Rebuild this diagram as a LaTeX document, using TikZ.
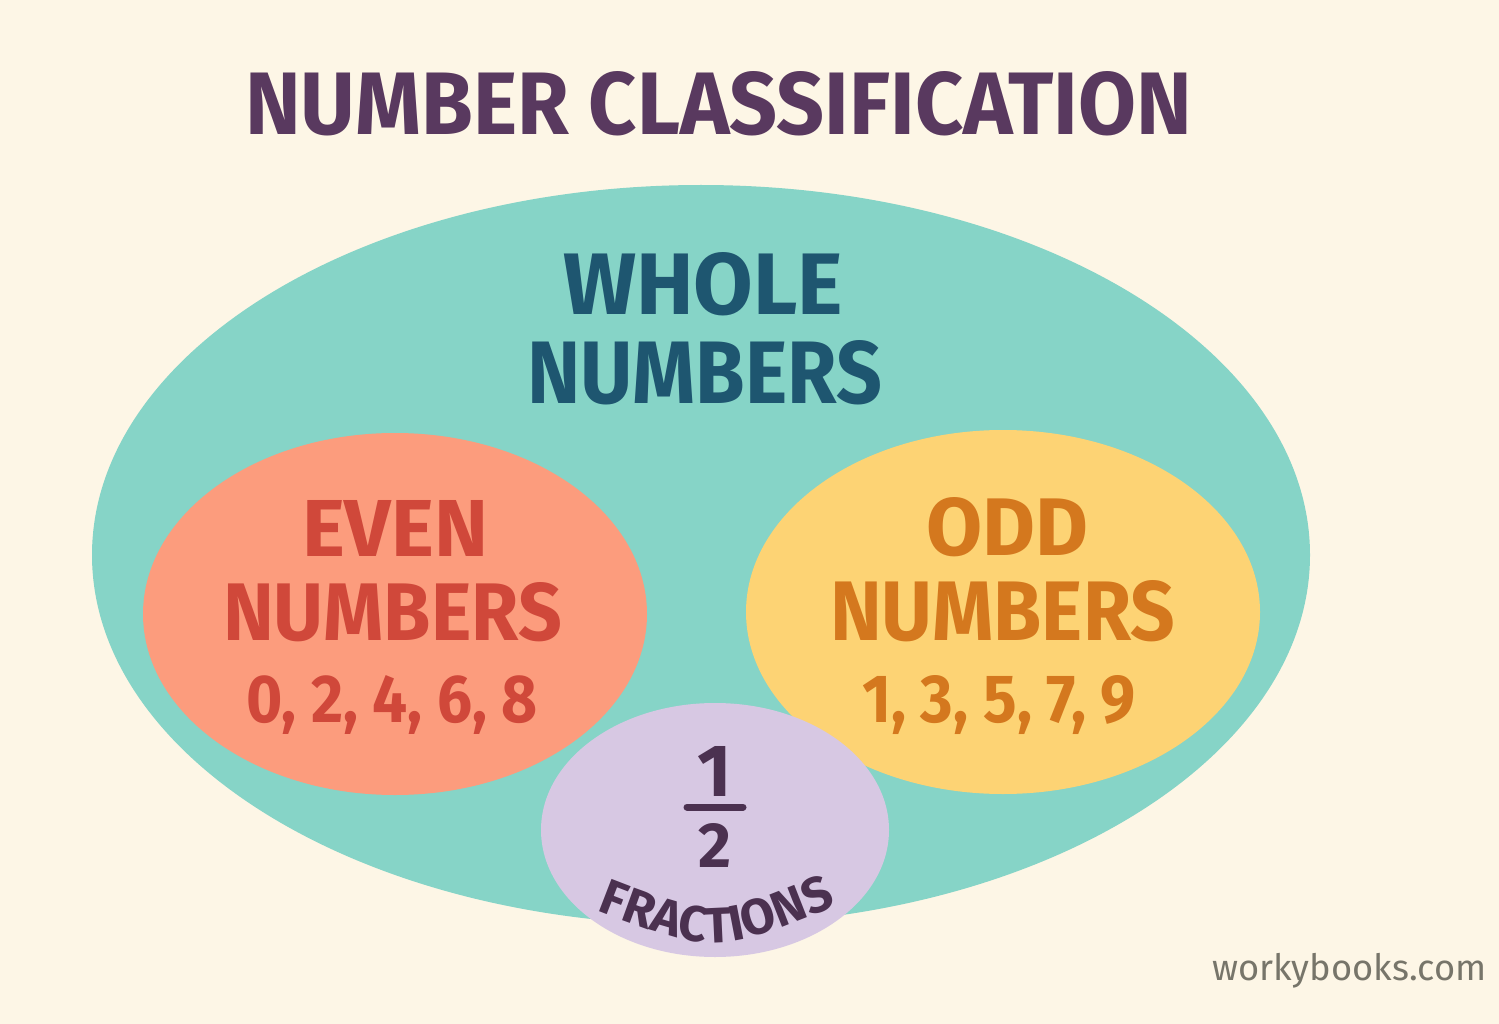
\documentclass[tikz,border=0pt]{standalone}
\usepackage{fontspec}
\setmainfont{Fira Sans}
\usetikzlibrary{decorations.text}
\definecolor{bgc}{HTML}{FDF6E6}
\definecolor{tealc}{HTML}{86D4C7}
\definecolor{evenc}{HTML}{FC9C7D}
\definecolor{oddc}{HTML}{FDD374}
\definecolor{fracfill}{HTML}{D7C8E3}
\definecolor{titlec}{HTML}{59395F}
\definecolor{wholec}{HTML}{1E5670}
\definecolor{eventext}{HTML}{D0483A}
\definecolor{oddtext}{HTML}{D4781E}
\definecolor{fracc}{HTML}{4B3150}
\definecolor{wmc}{HTML}{77756A}
\begin{document}
\begin{tikzpicture}[x=1pt,y=-1pt,
  lbl/.style={inner sep=0pt, outer sep=0pt, anchor=base west, font=\bfseries},
  clbl/.style={inner sep=0pt, outer sep=0pt, anchor=base, font=\bfseries}]
\useasboundingbox (0,0) rectangle (1499,1024);
\fill[bgc] (0,0) rectangle (1499,1024);
% sets
\fill[tealc] (701,555) ellipse [x radius=609, y radius=370];
\fill[evenc] (395,614) ellipse [x radius=252, y radius=181];
\fill[oddc] (1003,612) ellipse [x radius=257, y radius=182];
\fill[fracfill] (715,830) ellipse [x radius=174, y radius=127];
% title
\node[lbl, text=titlec] (title) at (245,135) {\resizebox{947pt}{63pt}{NUMBER CLASSIFICATION}};
% whole numbers
\node[lbl, text=wholec] (whole1) at (563,315) {\resizebox{280pt}{62pt}{WHOLE}};
\node[lbl, text=wholec] (whole2) at (527,403) {\resizebox{355pt}{63pt}{NUMBERS}};
% even
\node[lbl, text=eventext] (even1) at (302,556) {\resizebox{186pt}{56pt}{EVEN}};
\node[lbl, text=eventext] (even2) at (223,640) {\resizebox{339pt}{58pt}{NUMBERS}};
\node[lbl, text=eventext] (even3) at (246,722) {\resizebox{292pt}{47pt}{0, 2, 4, 6, 8}};
% odd
\node[lbl, text=oddtext] (odd1) at (926,555) {\resizebox{162pt}{58pt}{ODD}};
\node[lbl, text=oddtext] (odd2) at (830,640) {\resizebox{345pt}{60pt}{NUMBERS}};
\node[lbl, text=oddtext] (odd3) at (862,722) {\resizebox{274pt}{47pt}{1, 3, 5, 7, 9}};
% fraction
\node[clbl, text=fracc] (one) at (715,796) {\resizebox{!}{50pt}{1}};
\coordinate (barl) at (687,807);
\coordinate (barr) at (743,807);
\draw[fracc, line width=7pt, line cap=round] (barl) -- (barr);
\node[clbl, text=fracc] (two) at (715,867) {\resizebox{!}{44pt}{2}};
\path[decorate, decoration={text along path, text align=center, text color=fracc,
  text={|\bfseries\fontsize{50pt}{50pt}\selectfont|FRACTIONS}}]
  (575,902) .. controls (715,957) .. (858,896);
% watermark
\node[inner sep=0pt, anchor=base west, text=wmc] (wm) at (1212,980) {\resizebox{274pt}{!}{workybooks.com}};
\end{tikzpicture}
\end{document}
